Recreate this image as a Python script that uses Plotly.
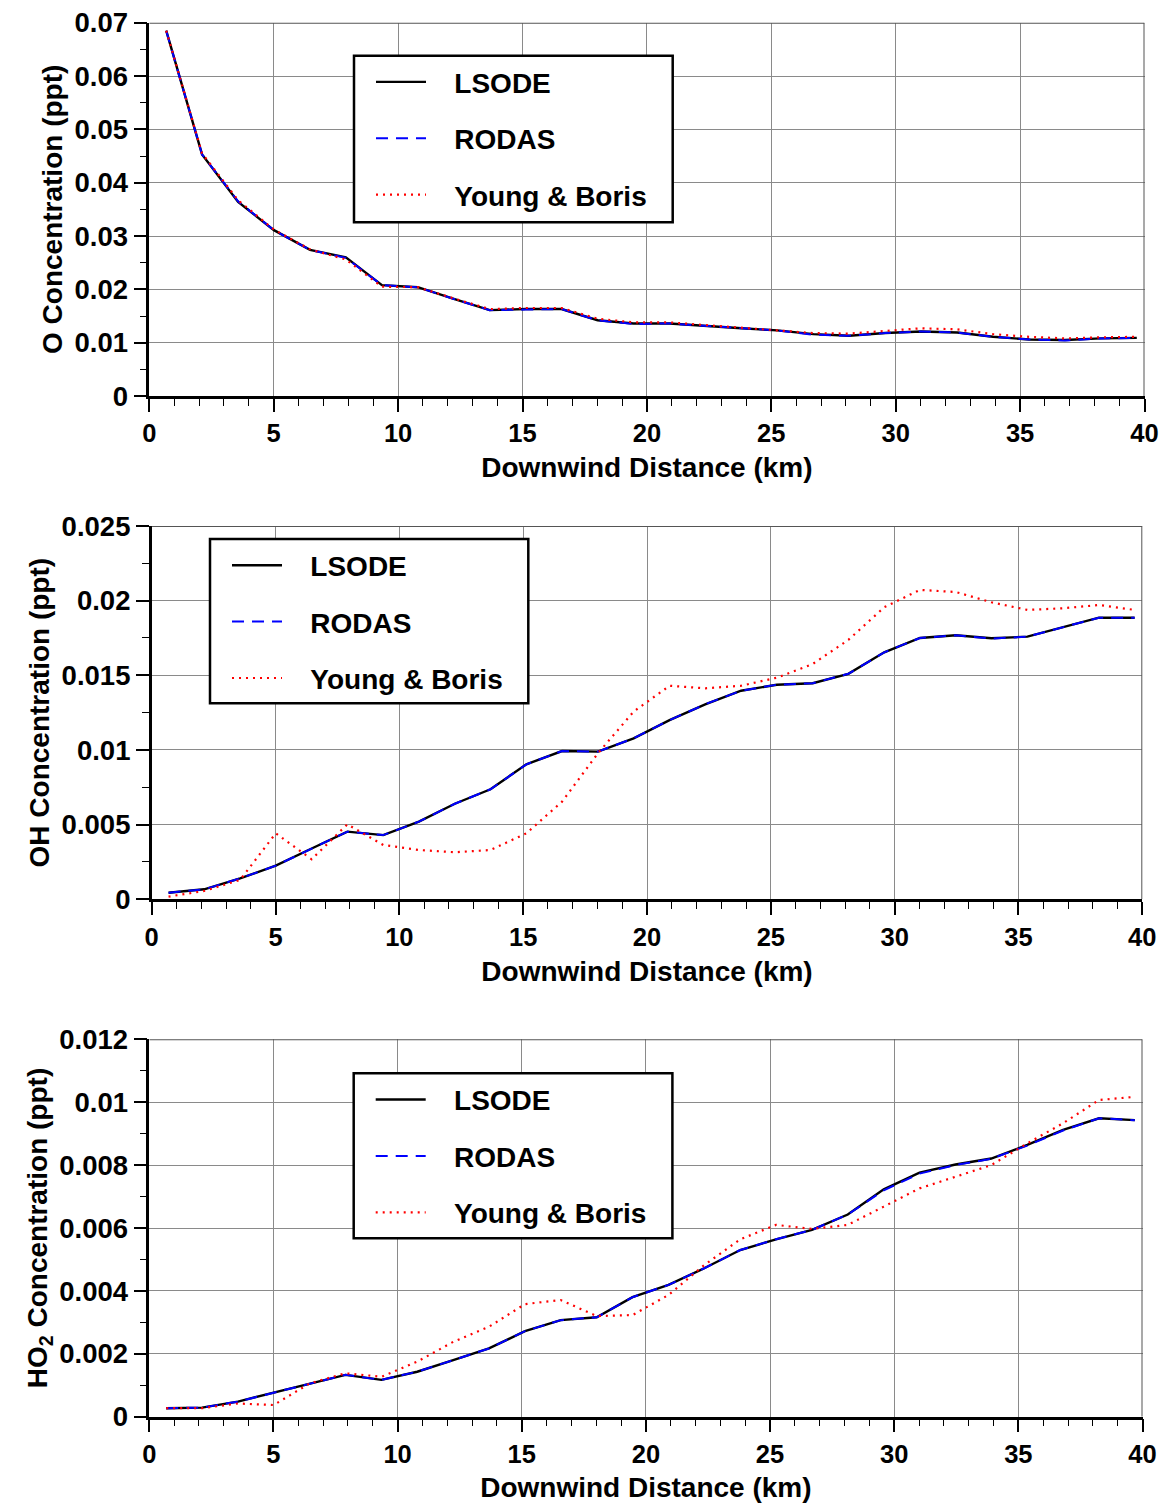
import plotly.graph_objects as go

# ---------------- data ----------------
distance_km = [0.68, 2.12, 3.57, 5.01, 6.46, 7.90, 9.35, 10.79, 12.24, 13.68,
               15.13, 16.57, 18.02, 19.46, 20.91, 22.35, 23.80, 25.24, 26.69, 28.13,
               29.58, 31.02, 32.47, 33.91, 35.36, 36.80, 38.25, 39.69]

o_lsode = [0.0685, 0.0453, 0.0364, 0.0311, 0.0274, 0.0260, 0.0208, 0.0204, 0.0182, 0.0161,
           0.0163, 0.0163, 0.0142, 0.0136, 0.0136, 0.0131, 0.0127, 0.0123, 0.0116, 0.0113,
           0.0118, 0.0121, 0.0119, 0.0111, 0.0106, 0.0105, 0.0108, 0.0109]
o_rodas = [0.0685, 0.0453, 0.0365, 0.0311, 0.0274, 0.0259, 0.0208, 0.0204, 0.0182, 0.0161,
           0.0162, 0.0163, 0.0142, 0.0135, 0.0136, 0.0131, 0.0127, 0.0123, 0.0115, 0.0113,
           0.0118, 0.0121, 0.0119, 0.0111, 0.0106, 0.0104, 0.0108, 0.0109]
o_young_boris = [0.0685, 0.0455, 0.0367, 0.0312, 0.0275, 0.0256, 0.0205, 0.0204, 0.0183, 0.0163,
                 0.0165, 0.0165, 0.0145, 0.0138, 0.0138, 0.0133, 0.0129, 0.0124, 0.0118, 0.0117,
                 0.0122, 0.0127, 0.0125, 0.0116, 0.0111, 0.0108, 0.0110, 0.0111]

oh_lsode = [0.00044, 0.00067, 0.00140, 0.00225, 0.00340, 0.00453, 0.00430, 0.00520, 0.00640, 0.00737,
            0.00904, 0.00993, 0.00989, 0.01078, 0.01200, 0.01306, 0.01397, 0.01437, 0.01447, 0.01510,
            0.01654, 0.01750, 0.01768, 0.01748, 0.01759, 0.01822, 0.01886, 0.01886]
oh_rodas = [0.00044, 0.00067, 0.00140, 0.00225, 0.00340, 0.00453, 0.00430, 0.00520, 0.00640, 0.00737,
            0.00904, 0.00993, 0.00989, 0.01078, 0.01200, 0.01306, 0.01397, 0.01437, 0.01447, 0.01510,
            0.01654, 0.01750, 0.01768, 0.01746, 0.01759, 0.01822, 0.01886, 0.01886]
oh_young_boris = [0.00018, 0.00056, 0.00130, 0.00442, 0.00268, 0.00502, 0.00364, 0.00330, 0.00315, 0.00330,
                  0.00442, 0.00654, 0.00978, 0.01257, 0.01430, 0.01413, 0.01430, 0.01484, 0.01576, 0.01737,
                  0.01956, 0.02072, 0.02058, 0.01989, 0.01938, 0.01949, 0.01971, 0.01938]

ho2_lsode = [0.00027, 0.00029, 0.00048, 0.00076, 0.00104, 0.00133, 0.00117, 0.00143, 0.00180, 0.00217,
             0.00272, 0.00307, 0.00316, 0.00380, 0.00419, 0.00472, 0.00530, 0.00564, 0.00594, 0.00643,
             0.00723, 0.00776, 0.00802, 0.00821, 0.00864, 0.00912, 0.00949, 0.00943]
ho2_rodas = [0.00027, 0.00029, 0.00048, 0.00076, 0.00104, 0.00133, 0.00117, 0.00143, 0.00180, 0.00217,
             0.00272, 0.00307, 0.00316, 0.00380, 0.00419, 0.00472, 0.00530, 0.00564, 0.00594, 0.00643,
             0.00720, 0.00773, 0.00800, 0.00820, 0.00862, 0.00910, 0.00949, 0.00943]
ho2_young_boris = [0.00027, 0.00027, 0.00042, 0.00037, 0.00106, 0.00138, 0.00127, 0.00175, 0.00238, 0.00286,
                   0.00358, 0.00371, 0.00320, 0.00323, 0.00387, 0.00482, 0.00564, 0.00610, 0.00597, 0.00610,
                   0.00668, 0.00726, 0.00763, 0.00800, 0.00869, 0.00933, 0.01007, 0.01017]

series_names = ["LSODE", "RODAS", "Young & Boris"]

x_tick_vals = [0, 5, 10, 15, 20, 25, 30, 35, 40]
x_tick_text = ["0", "5", "10", "15", "20", "25", "30", "35", "40"]

o_tick_vals = [0, 0.01, 0.02, 0.03, 0.04, 0.05, 0.06, 0.07]
o_tick_text = ["0", "0.01", "0.02", "0.03", "0.04", "0.05", "0.06", "0.07"]
oh_tick_vals = [0, 0.005, 0.01, 0.015, 0.02, 0.025]
oh_tick_text = ["0", "0.005", "0.01", "0.015", "0.02", "0.025"]
ho2_tick_vals = [0, 0.002, 0.004, 0.006, 0.008, 0.01, 0.012]
ho2_tick_text = ["0", "0.002", "0.004", "0.006", "0.008", "0.01", "0.012"]

y_titles = ["O Concentration (ppt)", "OH Concentration (ppt)", "HO<sub>2</sub> Concentration (ppt)"]
x_title = "Downwind Distance (km)"

# ---------------- styling ----------------
W, H = 1167, 1503
FONT = "Liberation Sans, Arial, Helvetica, sans-serif"
styles = [dict(color="black", width=2.4, dash="solid"),
          dict(color="blue", width=2, dash="12px,8px"),
          dict(color="red", width=2.2, dash="2px,5px")]

# plot areas in pixels: (left, right, top, bottom)
areas = [(149.3, 1144.5, 22.7, 396.0),
         (151.7, 1142.3, 526.0, 899.3),
         (149.3, 1142.5, 1039.3, 1416.7)]
# legend boxes in pixels: (left, top, right, bottom)
legend_boxes = [(354, 55.7, 672.7, 222.3),
                (210, 539, 528.3, 703.3),
                (353.7, 1073.3, 672.4, 1238.3)]

panels = [
    (o_lsode, o_rodas, o_young_boris, o_tick_vals, o_tick_text, 0.07, 0.005),
    (oh_lsode, oh_rodas, oh_young_boris, oh_tick_vals, oh_tick_text, 0.025, 0.0025),
    (ho2_lsode, ho2_rodas, ho2_young_boris, ho2_tick_vals, ho2_tick_text, 0.012, 0.001),
]

PAD = "\u00a0\u00a0\u00a0"

fig = go.Figure()
layout = dict(width=W, height=H, margin=dict(l=0, r=0, t=0, b=0, autoexpand=False),
              paper_bgcolor="white", plot_bgcolor="white", showlegend=True,
              font=dict(family=FONT, color="black", weight="bold"))
shapes = []

for i, (s_l, s_r, s_y, ytv, ytt, ymax, yminor) in enumerate(panels):
    sfx = "" if i == 0 else str(i + 1)
    leg = "legend" if i == 0 else "legend%d" % (i + 1)
    for name, ys, st in zip(series_names, [s_l, s_r, s_y], styles):
        fig.add_trace(go.Scatter(
            x=distance_km, y=ys, mode="lines", name=PAD + name,
            line=dict(color=st["color"], width=st["width"], dash=st["dash"]),
            xaxis="x" + sfx, yaxis="y" + sfx, legend=leg,
            legendgroup="p%d_%s" % (i, name)))
    l, r, t, b = areas[i]
    common = dict(showgrid=True, gridcolor="#8a8a8a", gridwidth=1.3,
                  showline=True, linecolor="black", linewidth=2.5,
                  ticks="outside", ticklen=13, tickwidth=1.5, tickcolor="black",
                  zeroline=False, mirror=False, automargin=False)
    layout["xaxis" + sfx] = dict(
        common, domain=[l / W, r / W], anchor="y" + sfx, range=[0, 40],
        tickmode="array", tickvals=x_tick_vals, ticktext=x_tick_text,
        tickfont=dict(size=25.5, family=FONT, weight="bold"),
        minor=dict(dtick=1, tick0=0, ticks="outside", ticklen=7, tickcolor="black",
                   tickwidth=1.2, showgrid=False),
        title=dict(text=x_title, font=dict(size=28, family=FONT, weight="bold"), standoff=12))
    layout["yaxis" + sfx] = dict(
        common, domain=[1 - b / H, 1 - t / H], anchor="x" + sfx, range=[0, ymax],
        tickmode="array", tickvals=ytv, ticktext=ytt,
        tickfont=dict(size=27.5, family=FONT, weight="bold"),
        minor=dict(dtick=yminor, tick0=0, ticks="outside", ticklen=7, tickcolor="black",
                   tickwidth=1.2, showgrid=False),
        title=dict(text=y_titles[i], font=dict(size=28, family=FONT, weight="bold"), standoff=4))
    # top and right frame edges
    shapes.append(dict(type="line", xref="x" + sfx, yref="y" + sfx, x0=0, x1=40, y0=ymax, y1=ymax,
                       line=dict(color="#555555", width=2)))
    shapes.append(dict(type="line", xref="x" + sfx, yref="y" + sfx, x0=40, x1=40, y0=0, y1=ymax,
                       line=dict(color="#555555", width=2)))
    # legend frame
    bl, bt, br, bb = legend_boxes[i]
    shapes.append(dict(type="rect", xref="paper", yref="paper",
                       x0=bl / W, x1=br / W, y0=1 - bb / H, y1=1 - bt / H,
                       fillcolor="white", line=dict(color="black", width=2.5), layer="above"))
    layout[leg] = dict(x=bl / W, y=1 - (bt + 1.5) / H, xanchor="left", yanchor="top",
                       bgcolor="rgba(0,0,0,0)", borderwidth=0, indentation=17,
                       font=dict(size=28, family=FONT, weight="bold", color="black"),
                       traceorder="grouped", tracegroupgap=17, itemwidth=50)

layout["shapes"] = shapes
fig.update_layout(**layout)
fig.write_html("out.html")
